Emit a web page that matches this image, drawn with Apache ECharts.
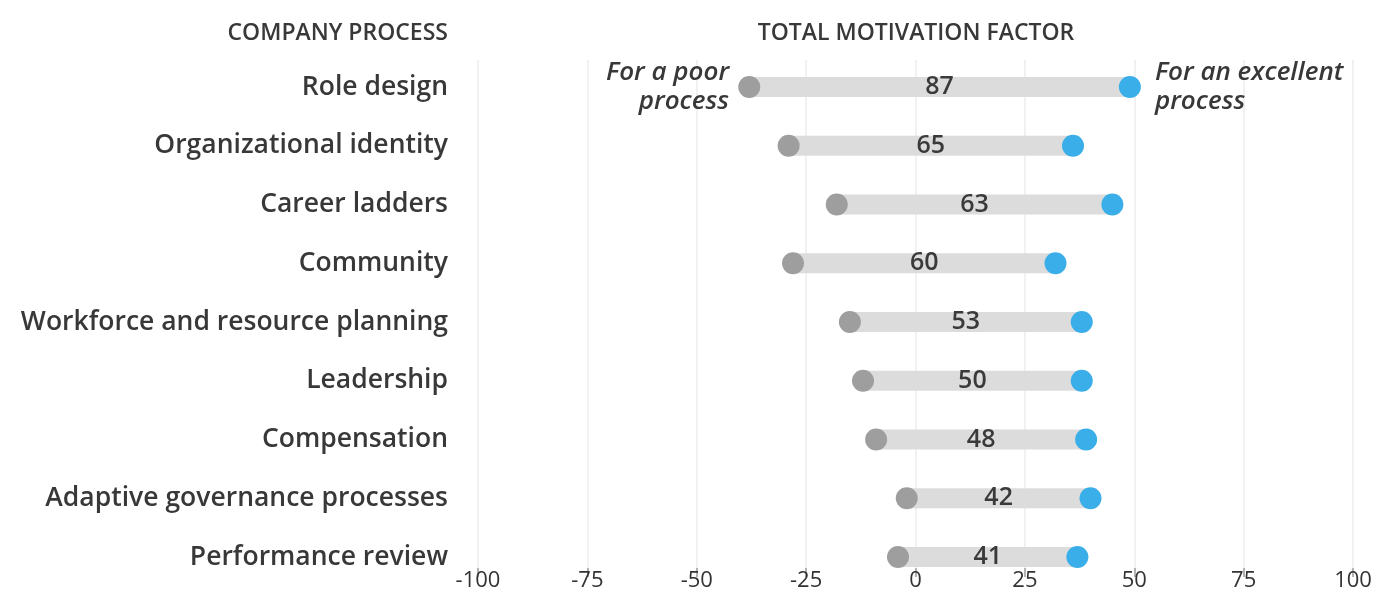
<!DOCTYPE html>
<html>
<head>
<meta charset="utf-8">
<script src="https://cdn.jsdelivr.net/npm/echarts@6/dist/echarts.min.js"></script>
<style>html,body{margin:0;padding:0;background:#fff;}#c{width:1379px;height:609px;}</style>
</head>
<body>
<div id="c"></div>
<script>
const categories = ["Role design","Organizational identity","Career ladders","Community","Workforce and resource planning","Leadership","Compensation","Adaptive governance processes","Performance review"];
const poorValues = [-38,-29,-18,-28,-15,-12,-9,-2,-4];
const excellentValues = [49,36,45,32,38,38,39,40,37];
const totalLabels = [87,65,63,60,53,50,48,42,41];
const xMin = -100, xMax = 100, xStep = 25;

const FONT = '"Open Sans"';
const chart = echarts.init(document.getElementById('c'));

const barData = categories.map((c,i)=>[poorValues[i], excellentValues[i], i, totalLabels[i]]);

chart.setOption({
  animation:false,
  grid:[
    {left:478, right:26, top:57.6, bottom:22.6},
    {left:478, right:26, top:60, bottom:41}
  ],
  xAxis:[
    {gridIndex:0, type:'value', min:xMin, max:xMax, show:false},
    {gridIndex:1, type:'value', min:xMin, max:xMax, interval:xStep,
      axisLine:{show:false},
      axisTick:{show:true, length:9, lineStyle:{color:'#9a9a9a', width:1.5}},
      splitLine:{show:true, lineStyle:{color:'#ececec', width:1.5}},
      axisLabel:{color:'#333', fontFamily:FONT, fontSize:22, margin:2}
    }
  ],
  yAxis:[
    {gridIndex:0, type:'category', data:categories, inverse:true,
      axisLine:{show:false}, axisTick:{show:false}, splitLine:{show:false},
      axisLabel:{color:'#383838', fontFamily:FONT, fontWeight:600, fontSize:26.5, margin:30}
    },
    {gridIndex:1, type:'value', min:0, max:1, show:false}
  ],
  series:[
    {
      type:'custom', xAxisIndex:0, yAxisIndex:0, z:2,
      data:barData,
      encode:{x:[0,1], y:2},
      renderItem:function(params, api){
        const p0 = api.coord([api.value(0), api.value(2)]);
        const p1 = api.coord([api.value(1), api.value(2)]);
        const h = 20;
        return {
          type:'group',
          children:[
            {type:'rect', shape:{x:p0[0], y:p0[1]-h/2, width:p1[0]-p0[0], height:h},
              style:{fill:'#dcdcdc'}},
            {type:'text', x:(p0[0]+p1[0])/2, y:p0[1],
              style:{text:String(api.value(3)), fill:'#3a3a3a', font:'600 25px '+FONT,
                align:'center', verticalAlign:'middle'}}
          ]
        };
      }
    },
    {
      type:'scatter', xAxisIndex:0, yAxisIndex:0, z:3,
      symbolSize:22,
      itemStyle:{color:'#9e9e9e', opacity:1},
      data:poorValues.map((v,i)=>[v,i])
    },
    {
      type:'scatter', xAxisIndex:0, yAxisIndex:0, z:3,
      symbolSize:22,
      itemStyle:{color:'#3aaee9', opacity:1},
      data:excellentValues.map((v,i)=>[v,i])
    }
  ],
  graphic:[
    {type:'text', z:100, x:448, y:33, style:{text:'COMPANY PROCESS', font:'600 23px '+FONT, fill:'#383838', align:'right', verticalAlign:'middle'}},
    {type:'text', z:100, x:916, y:33, style:{text:'TOTAL MOTIVATION FACTOR', font:'600 23px '+FONT, fill:'#383838', align:'center', verticalAlign:'middle'}},
    {type:'text', z:100, x:729, y:87, style:{text:'For a poor\nprocess', font:'italic 600 26px '+FONT, fill:'#383838', align:'right', verticalAlign:'middle', lineHeight:29}},
    {type:'text', z:100, x:1155, y:87, style:{text:'For an excellent\nprocess', font:'italic 600 26px '+FONT, fill:'#383838', align:'left', verticalAlign:'middle', lineHeight:29}}
  ]
});
</script>
</body>
</html>
